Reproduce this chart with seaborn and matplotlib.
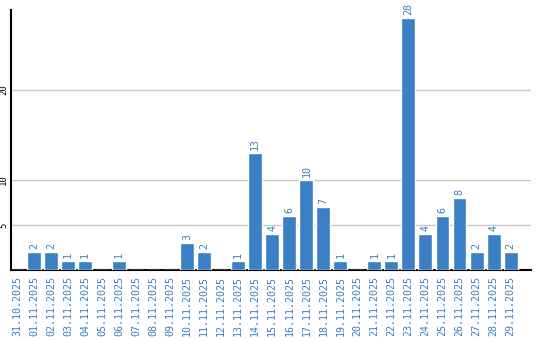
import matplotlib
matplotlib.use("Agg")
import matplotlib.pyplot as plt
import seaborn as sns
import pandas as pd

dates = ["31.10.2025", "01.11.2025", "02.11.2025", "03.11.2025", "04.11.2025",
         "05.11.2025", "06.11.2025", "07.11.2025", "08.11.2025", "09.11.2025",
         "10.11.2025", "11.11.2025", "12.11.2025", "13.11.2025", "14.11.2025",
         "15.11.2025", "16.11.2025", "17.11.2025", "18.11.2025", "19.11.2025",
         "20.11.2025", "21.11.2025", "22.11.2025", "23.11.2025", "24.11.2025",
         "25.11.2025", "26.11.2025", "27.11.2025", "28.11.2025", "29.11.2025"]
counts = [0, 2, 2, 1, 1, 0, 1, 0, 0, 0, 3, 2, 0, 1, 13, 4, 6, 10, 7, 1,
          0, 1, 1, 28, 4, 6, 8, 2, 4, 2]
y_ticks = [5, 10, 20]

BLUE = "#3b7fc4"
df = pd.DataFrame({"date": dates, "count": counts})

sns.set_style("white")
plt.rcParams["font.family"] = ["DejaVu Sans Mono", "DejaVu Sans"]

fig = plt.figure(figsize=(5.4, 3.4), dpi=100)
ax = fig.add_axes([11 / 540, 70 / 340, 520 / 540, 260 / 340])

sns.barplot(data=df, x="date", y="count", color=BLUE, width=0.82,
            saturation=1, ax=ax, zorder=3)

ax.set_xlim(-0.35, 30.2)
ax.set_ylim(0, 28.9)
ax.set_yticks(y_ticks)
ax.set_yticklabels([str(t) for t in y_ticks], rotation=90, va="center",
                   fontsize=6.5, color="black")
ax.yaxis.grid(True, color="#c8c8c8", linewidth=1, zorder=0)
ax.xaxis.grid(False)
ax.tick_params(axis="y", length=0, pad=2)
ax.tick_params(axis="x", length=0, pad=4)
ax.set_xticks(range(len(dates)))
ax.set_xticklabels(dates, rotation=90, fontsize=7.2, color=BLUE, va="top")
ax.set_xlabel("")
ax.set_ylabel("")

for s in ["top", "right"]:
    ax.spines[s].set_visible(False)
for s in ["left", "bottom"]:
    ax.spines[s].set_color("black")
    ax.spines[s].set_linewidth(1.5)

for i, v in enumerate(counts):
    if v > 0:
        ax.annotate(str(v), (i, v), xytext=(0, 2), textcoords="offset points",
                    rotation=90, ha="center", va="bottom", fontsize=7.2,
                    color=BLUE)

fig.savefig("out.png", dpi=100)
